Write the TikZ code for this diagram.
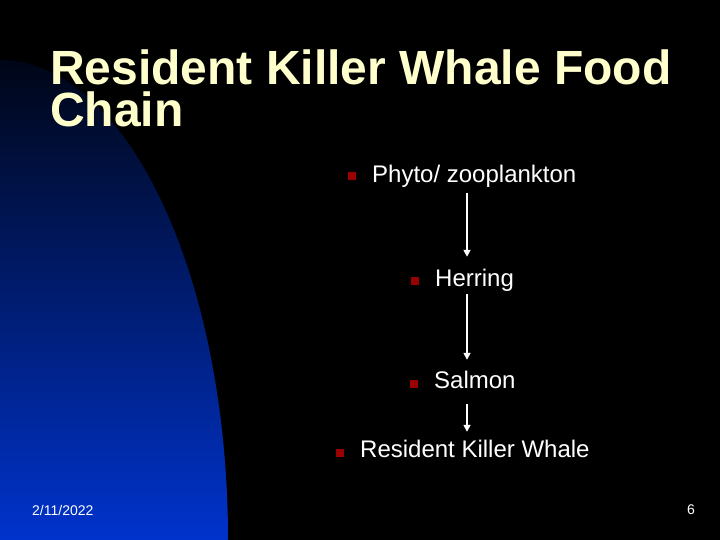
\documentclass[tikz,border=0pt]{standalone}
\usepackage{fontspec}
\setmainfont{Liberation Sans}
\usetikzlibrary{arrows.meta}
\definecolor{titlecream}{RGB}{255,255,204}
\definecolor{whaleblue}{RGB}{0,51,204}
\definecolor{midblue}{RGB}{0,36,145}
\definecolor{bulletred}{RGB}{153,0,0}
% pixel position on the slide, y counted from the top
\newcommand{\px}[2]{(#1,{540-#2})}
\tikzset{
    foodtext/.style={anchor=base west, inner sep=0pt, text=white,
        font=\fontsize{24}{28}\selectfont, text height=17pt, text depth=5pt},
    bulletbox/.style={fill=bulletred, inner sep=0pt, minimum size=8pt},
    foodarrow/.style={white, line width=1.6pt, -{Triangle[width=7pt,length=7pt]}},
    footer/.style={inner sep=0pt, text=white, font=\fontsize{14}{16}\selectfont}
}

\begin{document}
\begin{tikzpicture}[x=1pt, y=1pt]

    % Black slide with the blue curved panel on the left
    \fill[black] (0,0) rectangle (720,540);
    \begin{scope}
        \clip (0,0) -- (0,480) arc[start angle=90, end angle=0, x radius=228, y radius=480] -- cycle;
        \shade[top color=black, middle color=midblue, bottom color=whaleblue] (0,0) rectangle (228,540);
    \end{scope}

    % Title
    \node[anchor=base west, inner sep=0pt, text=titlecream, align=left,
        font=\fontsize{48}{42}\selectfont\bfseries] (title) at \px{50}{127}
        {Resident Killer Whale Food\\Chain};

    % The food chain, one entry per level
    \node[foodtext] (phyto) at \px{372}{183} {Phyto/ zooplankton};
    \node[foodtext] (herring) at \px{435}{287} {Herring};
    \node[foodtext] (salmon) at \px{434}{389} {Salmon};
    \node[foodtext] (orca) at \px{360}{458} {Resident Killer Whale};

    % Bullets in front of each entry
    \foreach \bx/\by/\nm in {351.5/176.5/phyto, 414.5/281.5/herring, 413.5/384/salmon, 340/453.5/orca}{
        \node[bulletbox] (bullet-\nm) at \px{\bx}{\by} {};
    }

    % Arrows from prey down to predator
    \coordinate (flowx) at (467,0);
    \draw[foodarrow, shorten <=5pt, shorten >=13pt] (phyto.south -| flowx) -- (herring.north -| flowx);
    \draw[foodarrow, shorten <=2pt, shorten >=12pt] (herring.south -| flowx) -- (salmon.north -| flowx);
    \draw[foodarrow, shorten <=10pt, shorten >=9pt] (salmon.south -| flowx) -- (orca.north -| flowx);

    % Footer
    \node[footer, anchor=base west] (date) at \px{32}{516} {2/11/2022};
    \node[footer, anchor=base east] (page) at \px{695}{515} {6};

\end{tikzpicture}
\end{document}
